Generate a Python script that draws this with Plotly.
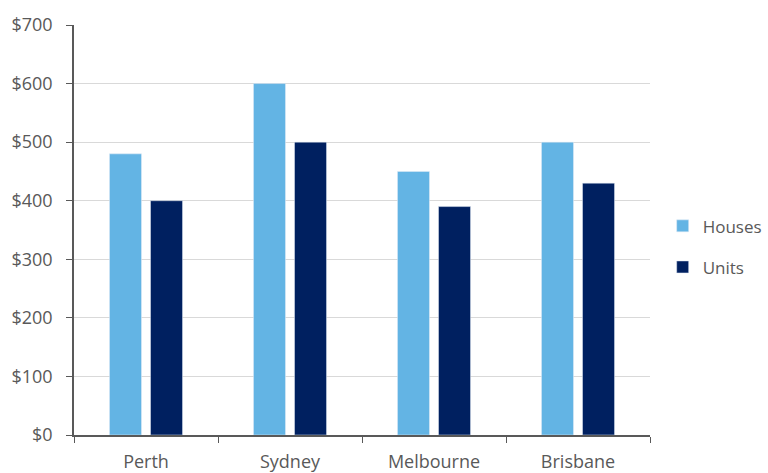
import plotly.graph_objects as go

cities = ["Perth", "Sydney", "Melbourne", "Brisbane"]
houses = [480, 600, 450, 500]
units = [400, 500, 390, 430]
y_ticks = [0, 100, 200, 300, 400, 500, 600, 700]
y_labels = ["$" + str(v) for v in y_ticks]

font = "Open Sans"
grey = "#595959"

fig = go.Figure()
fig.add_trace(go.Bar(name="Houses", x=cities, y=houses, marker_color="#63b4e4",
                     legendgroup="h"))
fig.add_trace(go.Bar(name="Units", x=cities, y=units, marker_color="#002060",
                     legendgroup="u"))

fig.update_layout(
    width=768, height=473,
    margin=dict(l=74, r=118, t=25, b=38, autoexpand=False),
    paper_bgcolor="white", plot_bgcolor="white",
    barmode="group", bargap=0.43, bargroupgap=0.22,
    font=dict(family=font, size=18, color=grey),
    legend=dict(x=1.022, y=0.459, xanchor="left", yanchor="middle",
                font=dict(size=17, color=grey), tracegroupgap=16,
                itemwidth=30, traceorder="grouped"),
    xaxis=dict(showline=True, linecolor=grey, linewidth=1.5,
               ticks="outside", tickson="boundaries", ticklen=6,
               tickcolor=grey, showgrid=False, ticklabelstandoff=10,
               automargin=False),
    yaxis=dict(range=[0, 700], tickvals=y_ticks, ticktext=y_labels,
               showline=True, linecolor=grey, linewidth=1.5,
               ticks="outside", ticklen=6, tickcolor=grey,
               gridcolor="#d9d9d9", gridwidth=1, zeroline=False,
               ticklabelstandoff=10, automargin=False),
)
fig.write_html("out.html")
